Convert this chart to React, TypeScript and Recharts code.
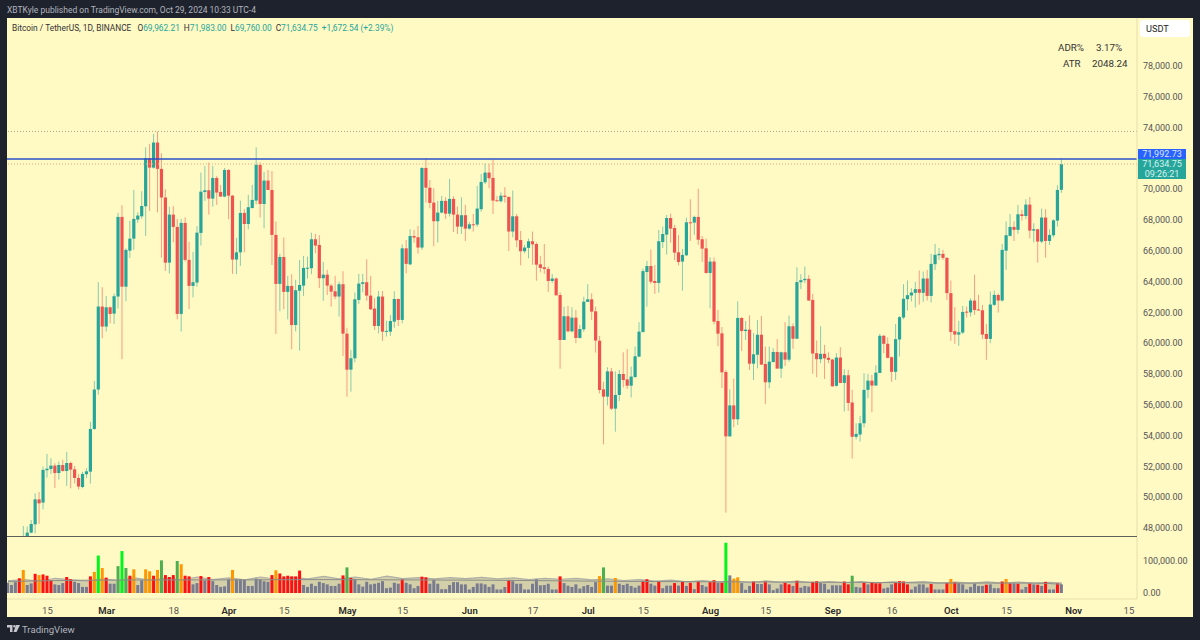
import React from 'react';
import {
  Area,
  Bar,
  Cell,
  ComposedChart,
  Line,
  ReferenceLine,
  XAxis,
  YAxis,
} from 'recharts';

// BTC/USDT daily candles in thousands, index 0 = Feb 5 2024, last = Oct 29 2024
const opens = [
  42.58,42.66,43.09,44.35,45.29,47.10,47.70,48.24,49.86,49.65,
  51.75,51.83,52.05,51.57,52.09,51.70,52.22,51.81,51.25,50.66,
  51.49,51.66,54.43,56.99,62.38,61.08,62.33,61.92,63.03,68.20,
  63.67,66.01,66.79,68.03,68.24,68.89,72.01,71.40,73.03,71.32,
  69.46,65.23,68.35,67.55,61.90,67.81,65.41,63.72,63.94,67.16,
  69.82,69.93,69.39,70.73,69.82,69.52,71.25,69.58,65.43,65.90,
  68.46,67.74,68.78,69.26,71.58,69.04,70.56,69.95,67.03,63.85,
  65.60,63.33,63.72,61.18,63.41,63.74,64.89,64.87,66.75,66.38,
  64.22,64.45,63.74,63.37,63.03,63.83,60.62,58.28,59.02,62.81,
  63.85,63.96,63.09,62.25,61.12,63.03,60.75,60.75,61.40,62.87,
  61.51,66.16,65.12,66.96,66.88,66.21,71.38,70.10,69.13,67.92,
  68.48,69.24,68.41,69.37,68.35,67.57,68.31,67.44,67.72,67.70,
  68.70,70.45,71.08,70.73,69.28,69.22,69.58,69.50,67.25,68.24,
  66.70,65.97,66.19,66.62,66.44,65.12,64.93,64.82,64.04,64.20,
  63.13,60.21,61.75,60.77,61.66,60.34,60.90,62.68,62.85,62.07,
  60.16,57.00,56.53,58.17,55.75,56.64,58.00,57.65,57.24,57.80,
  59.13,60.73,64.62,65.01,64.04,63.91,66.57,67.05,68.13,67.48,
  65.90,65.30,65.71,67.85,67.83,68.20,66.75,66.16,64.56,65.30,
  61.44,60.64,58.13,53.95,55.96,55.06,61.64,60.79,60.88,58.67,
  59.25,60.55,58.65,57.46,58.78,59.43,58.35,59.41,58.93,61.10,
  60.29,63.96,64.09,64.18,62.81,59.35,58.96,59.31,59.05,58.94,
  57.23,59.07,57.42,57.92,56.15,53.92,54.07,54.80,56.97,57.57,
  57.25,58.07,60.48,59.96,59.09,58.14,60.24,61.67,62.86,63.10,
  63.27,63.51,63.27,64.20,63.07,65.13,65.71,65.80,65.54,63.25,
  60.78,60.56,60.69,62.05,62.00,62.77,62.19,62.14,60.60,60.28,
  62.49,63.13,62.77,66.01,66.97,67.55,67.36,68.37,68.26,69.00,
  67.31,67.40,66.60,68.16,66.64,67.01,67.96,69.96,
];
const closes = [
  42.66,43.09,44.35,45.29,47.13,47.70,48.26,49.86,49.60,51.77,
  51.85,52.05,51.57,52.09,51.70,52.22,51.79,51.25,50.69,51.51,
  51.68,54.43,56.99,62.38,61.08,62.33,61.90,63.05,68.20,63.67,
  66.06,66.79,68.07,68.29,68.91,72.01,71.40,73.03,71.32,69.46,
  65.23,68.35,67.55,61.90,67.81,65.41,63.72,63.96,67.18,69.84,
  69.93,69.39,70.73,69.78,69.52,71.25,69.58,65.43,65.90,68.46,
  67.74,68.83,69.30,71.58,69.04,70.56,69.95,67.03,63.85,65.60,
  63.33,63.72,61.18,63.44,63.78,64.89,64.90,66.75,66.34,64.22,
  64.45,63.74,63.35,63.03,63.83,60.62,58.28,59.02,62.85,63.87,
  63.96,63.09,62.20,61.12,63.03,60.75,60.80,61.44,62.87,61.51,
  66.16,65.15,66.96,66.86,66.21,71.38,70.10,69.11,67.92,68.48,
  69.24,68.41,69.37,68.35,67.57,68.31,67.44,67.72,67.70,68.74,
  70.47,71.08,70.71,69.26,69.22,69.58,69.50,67.25,68.24,66.68,
  65.97,66.21,66.62,66.42,65.10,64.89,64.82,64.04,64.20,63.11,
  60.21,61.75,60.77,61.66,60.34,60.92,62.70,62.85,62.05,60.17,
  56.96,56.53,58.17,55.75,56.64,58.00,57.61,57.24,57.83,59.15,
  60.75,64.68,65.01,63.99,63.91,66.62,67.09,68.13,67.44,65.88,
  65.27,65.73,67.85,67.83,68.20,66.72,66.14,64.56,65.30,61.40,
  60.62,58.11,53.95,55.96,55.06,61.64,60.79,60.88,58.67,59.28,
  60.55,58.61,57.46,58.80,59.43,58.35,59.41,58.93,61.10,60.29,
  63.97,64.09,64.18,62.77,59.33,58.96,59.31,59.02,58.92,57.20,
  59.07,57.42,57.92,56.12,53.92,54.11,54.80,56.97,57.57,57.25,
  58.09,60.48,59.96,59.05,58.14,60.26,61.69,62.88,63.12,63.29,
  63.51,63.27,64.20,63.07,65.15,65.74,65.80,65.54,63.25,60.73,
  60.56,60.71,62.03,62.01,62.77,62.16,62.14,60.56,60.28,62.51,
  63.14,62.77,66.06,67.01,67.55,67.36,68.37,68.26,69.00,67.31,
  67.40,66.60,68.16,66.64,67.03,67.98,69.95,71.63,
];
const highs = [
  43.50,43.40,44.40,45.60,48.13,48.09,48.52,50.25,50.34,51.99,
  52.81,52.53,52.20,52.31,52.42,52.94,52.31,52.03,51.51,51.64,
  51.88,54.89,57.55,63.96,63.63,63.07,62.38,63.22,68.46,68.96,
  66.16,67.94,69.95,68.50,69.87,72.72,72.94,73.59,73.74,72.33,
  70.00,68.87,68.91,68.07,68.07,68.18,66.58,65.93,67.60,71.08,
  71.51,71.73,71.51,70.86,70.28,71.38,71.30,69.63,66.84,69.26,
  68.70,69.63,70.28,72.72,71.73,71.12,71.25,71.17,67.90,65.80,
  66.86,64.37,64.48,64.11,65.41,65.67,65.62,67.18,67.10,67.01,
  65.28,64.76,63.85,64.37,64.00,64.67,61.00,59.56,63.29,64.50,
  64.50,65.45,64.37,62.92,63.39,63.39,61.47,61.83,63.37,62.90,
  66.42,66.70,67.40,67.35,67.61,71.42,72.00,70.60,70.06,69.24,
  69.56,69.48,70.67,69.54,68.87,69.48,68.98,67.87,68.39,70.21,
  70.99,71.68,71.64,71.94,69.56,69.80,70.13,69.52,69.91,68.39,
  67.29,66.38,66.79,67.25,66.55,65.67,66.44,64.97,64.50,64.26,
  63.31,62.37,62.42,62.33,62.16,61.18,63.02,63.83,63.24,62.37,
  60.47,57.50,58.43,58.39,58.17,58.26,59.41,59.62,58.48,59.78,
  61.36,64.84,65.34,66.08,65.08,67.35,67.57,68.33,68.41,67.68,
  67.03,66.12,68.15,69.34,68.28,70.02,66.96,66.79,65.58,65.56,
  62.16,61.05,58.26,57.00,57.70,62.72,61.68,61.44,61.81,60.66,
  61.51,61.77,59.78,59.78,59.67,60.27,59.45,61.36,61.79,61.29,
  64.93,64.48,64.98,64.42,63.20,60.17,61.10,59.89,59.41,58.98,
  59.35,59.74,58.31,58.27,56.97,54.80,55.28,58.05,58.01,57.94,
  58.57,60.61,60.54,60.37,59.13,61.25,61.77,63.83,64.07,63.57,
  63.98,64.72,64.65,64.76,65.80,66.45,66.19,66.06,65.58,64.07,
  62.34,61.45,62.42,62.38,62.92,64.44,63.14,62.49,61.25,63.35,
  63.42,63.24,66.45,67.90,68.39,67.90,68.98,68.65,69.35,69.48,
  67.79,67.42,68.74,68.70,67.40,68.05,70.26,71.98,
];
const lows = [
  42.26,42.50,42.80,44.30,45.20,47.00,47.65,47.65,48.26,49.21,
  51.27,51.51,50.60,51.14,51.66,50.73,50.58,50.90,50.51,50.58,
  51.23,50.88,54.37,56.66,60.32,60.75,61.29,61.25,62.25,58.96,
  62.72,65.54,66.06,67.81,68.09,66.97,68.59,71.34,68.50,65.56,
  64.69,64.52,66.55,61.55,60.75,65.30,62.22,62.98,63.67,66.34,
  69.24,68.35,68.87,68.98,69.52,69.48,68.05,64.50,64.48,65.02,
  65.90,67.40,68.74,69.02,68.16,67.46,69.95,65.08,60.60,62.07,
  62.20,61.55,59.60,60.77,59.52,63.07,64.20,64.48,65.84,63.59,
  62.76,63.13,62.38,62.85,61.73,59.17,56.53,56.85,58.76,62.55,
  63.30,62.76,62.16,60.86,60.64,60.15,60.43,60.47,61.00,61.12,
  61.29,64.54,65.06,66.53,65.82,66.06,69.13,68.76,66.29,66.53,
  68.44,68.07,68.22,67.22,67.09,67.09,66.64,67.38,67.25,67.55,
  68.54,70.34,70.06,68.39,69.19,69.13,69.13,65.99,66.88,66.23,
  65.06,65.84,65.51,65.10,64.06,64.60,64.50,63.33,63.91,63.09,
  58.35,60.21,60.71,60.71,60.00,60.30,60.75,62.68,61.51,59.39,
  56.74,53.43,55.96,55.66,54.25,56.25,57.13,57.03,56.48,57.76,
  59.08,60.68,62.37,63.85,63.20,63.28,66.18,65.75,66.53,65.40,
  65.06,63.41,65.66,66.64,67.03,66.38,65.27,64.52,62.26,61.23,
  59.80,57.09,49.00,53.93,54.54,54.69,59.49,60.21,58.26,57.61,
  58.37,58.58,56.05,57.07,58.74,58.35,57.74,58.52,58.80,59.64,
  60.29,63.51,63.90,62.75,58.01,57.79,58.70,57.68,58.70,57.18,
  57.18,57.40,55.56,55.60,52.51,53.76,53.61,54.54,56.43,55.52,
  57.25,58.05,59.35,59.02,57.49,57.62,59.13,61.56,62.12,62.71,
  62.32,62.51,62.68,62.77,62.64,64.76,65.41,65.41,62.81,60.15,
  59.96,59.83,60.60,61.67,61.73,61.84,62.10,60.26,58.92,60.00,
  62.42,61.99,62.70,64.76,66.92,66.64,67.10,67.96,68.05,66.81,
  66.55,65.23,66.49,65.56,66.38,66.88,67.57,69.76,
];

// volume in thousands
const volumes = [
  32,25,34,46,72,25,30,60,56,58,
  54,40,27,25,31,50,43,35,31,19,
  19,52,66,117,78,48,29,29,84,131,
  78,54,74,25,40,74,68,54,72,102,
  56,50,56,100,90,54,52,27,31,53,
  40,50,37,25,19,21,43,72,43,43,
  41,22,22,45,43,37,35,56,71,61,
  52,54,52,52,70,25,19,29,22,35,
  31,27,22,22,29,55,80,47,44,27,
  20,35,27,29,32,37,15,17,32,29,
  43,32,27,15,22,51,49,29,41,29,
  12,12,25,34,34,27,27,11,19,30,
  30,27,19,27,11,11,19,41,37,29,
  29,11,11,29,43,24,25,29,11,11,
  52,31,23,19,27,14,21,25,19,34,
  53,80,23,23,47,29,25,29,22,17,
  23,38,43,29,23,36,15,23,23,31,
  23,35,22,32,12,36,25,20,34,40,
  32,32,157,55,45,49,31,10,22,36,
  28,28,36,27,9,14,27,32,27,22,
  38,17,22,20,35,37,31,29,11,24,
  24,24,36,27,54,19,17,33,27,33,
  30,30,14,17,27,33,37,36,27,11,
  20,27,27,17,28,11,11,11,31,44,
  33,31,27,11,19,29,22,22,26,27,
  15,15,36,44,30,30,29,11,19,30,
  27,26,22,35,11,11,30,27,
];
const redDays = [3,7,9,10,11,15,16,21,25,31,37,40,41,42,45,46,49,51,67,69,70,71,72,73,74,85,87,100,105,106,127,140,161,162,165,169,171,173,175,178,179,181,189,192,197,198,200,204,205,212,213,217,219,220,221,225,226,227,228,234,238,240,248,252,254,256,259,261,263,266];
const orangeDays = [4,8,22,24,32,35,36,38,44,57,68,150,154,184,185,239,253];
const greenDays = [28,30,39,43,86,151,214];
const brightDays = [23,29,182];

// volume band and average, read every few bars
const bandSamples = [
  38,42,37,46,41,37,44,39,47,40,
  46,41,50,42,47,41,50,43,49,44,
  52,44,50,43,53,45,48,44,48,45,
  49,44,47,42,46,43,46,41,44,39,
  42,37,40,35,39,34,38,32,38,33,
  37,32,36,32,36,31,35,33,36,31,
  34,31,35,31,34,31,33,31,
];
const avgSamples = [36,40,41,41,42,41,40,38,36,35,34,33,31,31,30];

// 72,000 sits under the price tags in the reference
const priceTicks = [48,50,52,54,56,58,60,62,64,66,68,70,74,76,78].map((k) => k * 1000);
const volumeTicks = [0, 100000];
const timeTickDays = [10,25,42,56,70,86,100,117,133,147,161,178,192,209,224,239,253,270,284];
const timeTickLabels = ['15','Mar','18','Apr','15','May','15','Jun','17','Jul','15','Aug','15','Sep','16','Oct','15','Nov','15'];

const FONT = 'Roboto, "Noto Sans", sans-serif';
const UP = '#26a69a';
const DOWN = '#ef5350';
const X_DOMAIN: [number, number] = [-0.25, 286.04];

const candleData = opens.map((o, i) => ({
  day: i,
  range: [lows[i] * 1000, highs[i] * 1000],
  open: o * 1000,
  close: closes[i] * 1000,
}));

const lastDay = volumes.length - 1;
const volumeData = volumes.map((v, i) => {
  const bandAt = bandSamples.findIndex((_, k) => Math.min(k * 4, lastDay) === i);
  const avgAt = avgSamples.findIndex((_, k) => k * 20 === i);
  return {
    day: i,
    volume: v * 1000,
    band: bandAt >= 0 ? bandSamples[bandAt] * 1000 : undefined,
    avg: avgAt >= 0 ? avgSamples[avgAt] * 1000 : i === lastDay ? 27000 : undefined,
  };
});

const volumeColor = (i: number) => {
  if (brightDays.includes(i)) return '#00f51a';
  if (greenDays.includes(i)) return '#4caf50';
  if (orangeDays.includes(i)) return '#ff9800';
  if (redDays.includes(i)) return '#ff1010';
  return '#787b8f';
};

const Candle = (props: any) => {
  const { x, y, width, height, payload } = props;
  const [low, high] = payload.range;
  const perUnit = Math.abs(height) / (high - low);
  const cx = x + width / 2;
  const isUp = payload.close >= payload.open;
  const color = isUp ? UP : DOWN;
  const bodyTop = y + (high - Math.max(payload.open, payload.close)) * perUnit;
  const bodyHeight = Math.max(Math.abs(payload.close - payload.open) * perUnit, 1);
  return (
    <g>
      <line x1={cx} x2={cx} y1={y} y2={y + Math.abs(height)} stroke={color} strokeOpacity={0.55} strokeWidth={1} />
      <rect x={cx - 1.6} y={bodyTop} width={3.2} height={bodyHeight} fill={color} />
    </g>
  );
};

const TimeTick = (props: any) => {
  const { x, y, payload } = props;
  const label = timeTickLabels[timeTickDays.indexOf(payload.value)];
  const isMonth = label.length > 2;
  return (
    <text
      x={x}
      y={y}
      dy={9}
      textAnchor="middle"
      fontFamily={FONT}
      fontSize={9.5}
      fontWeight={isMonth ? 600 : 400}
      fill={isMonth ? '#2a2a2a' : '#555555'}
    >
      {label}
    </text>
  );
};

const money = (v: number) =>
  v.toLocaleString('en-US', { minimumFractionDigits: 2, maximumFractionDigits: 2 });

const abs = (left: number, top: number, extra: React.CSSProperties = {}): React.CSSProperties => ({
  position: 'absolute',
  left,
  top,
  whiteSpace: 'nowrap',
  fontFamily: FONT,
  ...extra,
});

const App: React.FC = () => {
  return (
    <div style={{ position: 'fixed', left: 0, top: 0, width: 1200, height: 640, background: '#1e222d', overflow: 'hidden' }}>
      <div style={abs(7, 3, { fontSize: 8.5, color: '#b2b5be', lineHeight: '14px' })}>
        XBTKyle published on TradingView.com, Oct 29, 2024 10:33 UTC-4
      </div>
      <div style={{ position: 'absolute', left: 7, top: 18, width: 1186, height: 599, background: '#fff9c4' }} />

      <div style={{ position: 'absolute', left: 7, top: 18 }}>
        <ComposedChart width={1186} height={518} data={candleData} margin={{ top: 0, right: 0, bottom: 0, left: 0 }}>
          <XAxis dataKey="day" type="number" scale="linear" domain={X_DOMAIN} hide />
          <YAxis
            orientation="right"
            width={56}
            domain={[47480, 81117]}
            allowDataOverflow
            ticks={priceTicks}
            interval={0}
            tickFormatter={money}
            tickLine={false}
            tickMargin={0}
            axisLine={{ stroke: '#e6dfae' }}
            tick={{ fontFamily: FONT, fontSize: 9, fill: '#555555' }}
          />
          <ReferenceLine y={73750} stroke="#a8a48c" strokeDasharray="1 2" />
          <ReferenceLine y={71634.75} stroke="#eeaa7c" strokeWidth={1.2} strokeDasharray="1 2" />
          <ReferenceLine y={71960} stroke="#2a4fc8" strokeWidth={1.4} />
          <Bar dataKey="range" barSize={3} shape={Candle} isAnimationActive={false} />
        </ComposedChart>
      </div>

      <div style={{ position: 'absolute', left: 7, top: 536, width: 1130, height: 1, background: '#5f5f5a' }} />

      <div style={{ position: 'absolute', left: 7, top: 537 }}>
        <ComposedChart width={1186} height={80} data={volumeData} margin={{ top: 0, right: 0, bottom: 0, left: 0 }}>
          <XAxis
            dataKey="day"
            type="number"
            scale="linear"
            domain={X_DOMAIN}
            ticks={timeTickDays}
            interval={0}
            height={18}
            tick={<TimeTick />}
            tickLine={false}
            tickMargin={0}
            axisLine={{ stroke: '#e6dfae' }}
          />
          <YAxis
            orientation="right"
            width={56}
            domain={[-18750, 175000]}
            allowDataOverflow
            ticks={volumeTicks}
            interval={0}
            tickFormatter={money}
            tickLine={false}
            tickMargin={0}
            axisLine={{ stroke: '#e6dfae' }}
            tick={{ fontFamily: FONT, fontSize: 9, fill: '#555555' }}
          />
          <Area
            dataKey="band"
            type="linear"
            connectNulls
            stroke="#aeb0a8"
            strokeWidth={1.2}
            fill="#a8a68c"
            fillOpacity={0.5}
            baseValue={0}
            dot={false}
            activeDot={false}
            isAnimationActive={false}
          />
          <Bar dataKey="volume" barSize={3} isAnimationActive={false}>
            {volumeData.map((d) => (
              <Cell key={d.day} fill={volumeColor(d.day)} />
            ))}
          </Bar>
          <Line dataKey="avg" type="monotone" connectNulls stroke="#8d8f88" strokeWidth={1} dot={false} activeDot={false} isAnimationActive={false} />
        </ComposedChart>
      </div>

      <div style={abs(12, 22, { fontSize: 8.35, lineHeight: '12px', color: '#333333' })}>
        Bitcoin / TetherUS, 1D, BINANCE{'  '}
        <span style={{ marginLeft: 4 }}>O</span><span style={{ color: UP }}>69,962.21</span>
        <span style={{ marginLeft: 4 }}>H</span><span style={{ color: UP }}>71,983.00</span>
        <span style={{ marginLeft: 4 }}>L</span><span style={{ color: UP }}>69,760.00</span>
        <span style={{ marginLeft: 4 }}>C</span><span style={{ color: UP }}>71,634.75</span>
        <span style={{ marginLeft: 4, color: UP }}>+1,672.54 (+2.39%)</span>
      </div>

      <div style={abs(1058, 41, { fontSize: 9.8, lineHeight: '14px', color: '#333333' })}>ADR%</div>
      <div style={abs(1096, 41, { fontSize: 9.8, lineHeight: '14px', color: '#333333' })}>3.17%</div>
      <div style={abs(1063, 57, { fontSize: 9.8, lineHeight: '14px', color: '#333333' })}>ATR</div>
      <div style={abs(1092, 57, { fontSize: 9.8, lineHeight: '14px', color: '#333333' })}>2048.24</div>

      <div style={abs(1140, 20, { width: 50, height: 17, background: '#ffffff', borderRadius: 3, fontSize: 9.2, lineHeight: '17px', color: '#222222', textIndent: 6 })}>
        USDT
      </div>

      <div style={abs(1138, 148.7, { width: 48, height: 10.6, background: '#2962ff', color: '#dfe6ff', fontSize: 9, lineHeight: '11px', textAlign: 'center' })}>
        71,992.73
      </div>
      <div style={abs(1138, 159.3, { width: 48, height: 20, background: '#26a69a', color: '#d9f2ef', fontSize: 9, lineHeight: '10px', textAlign: 'center' })}>
        71,634.75
        <br />
        09:26:21
      </div>

      <svg style={{ position: 'absolute', left: 7, top: 625 }} width={13} height={8} viewBox="0 0 13 8">
        <path d="M0 0h5.5v7H3V2.5H0z M9 0h4L9.5 7H6.5z" fill="#c4c6cc" />
        <circle cx="7.4" cy="1.3" r="1.2" fill="#c4c6cc" />
      </svg>
      <div style={abs(22, 623, { fontSize: 9.6, lineHeight: '13px', color: '#b2b5be' })}>TradingView</div>
    </div>
  );
};

export default App;
